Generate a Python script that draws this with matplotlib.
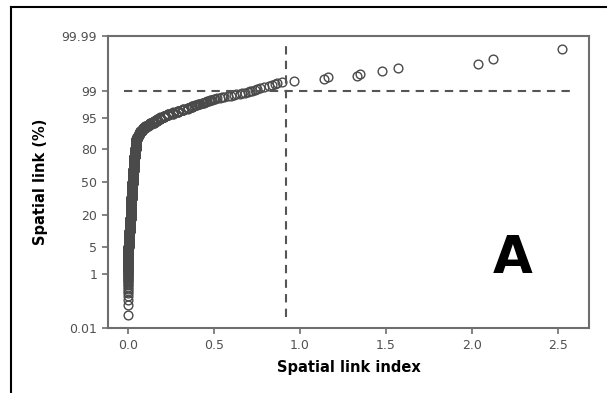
import numpy as np
import matplotlib
matplotlib.use('Agg')
import matplotlib.pyplot as plt
from matplotlib.lines import Line2D
from statistics import NormalDist

# Spatial link index values (sorted); bulk given as value / count pairs
x_levels = [0.000, 0.003, 0.006, 0.008, 0.010, 0.014, 0.016, 0.018, 0.020,
            0.024, 0.026, 0.029, 0.031, 0.034, 0.038, 0.042, 0.046, 0.050,
            0.055, 0.060, 0.066, 0.073, 0.080, 0.090, 0.100, 0.115, 0.130,
            0.150, 0.170, 0.190, 0.210, 0.235, 0.260, 0.290, 0.320, 0.350, 0.375]
x_counts = [40, 60, 60, 50, 44, 100, 120, 120, 90,
            150, 150, 150, 110, 120, 120, 120, 80, 40,
            26, 15, 20, 20, 15, 13, 12, 12, 11,
            12, 11, 10, 9, 8, 7, 7, 6, 5, 5]
# upper tail, one value per point
x_tail = [0.385, 0.39, 0.395, 0.40, 0.41, 0.415, 0.42, 0.43, 0.44, 0.445,
          0.45, 0.455, 0.46, 0.47, 0.48, 0.485, 0.49, 0.50, 0.51, 0.52,
          0.535, 0.545, 0.56, 0.58, 0.60, 0.615, 0.63, 0.65, 0.665, 0.68,
          0.70, 0.71, 0.725, 0.74, 0.75, 0.77, 0.79, 0.82, 0.84, 0.855, 0.87,
          0.895, 0.967, 1.143, 1.163, 1.332, 1.351, 1.481, 1.574, 2.039, 2.126, 2.524]

y_ticks = [0.01, 1, 5, 20, 50, 80, 95, 99, 99.99]
y_ticklabels = ['0.01', '1', '5', '20', '50', '80', '95', '99', '99.99']
x_ticks = [0.0, 0.5, 1.0, 1.5, 2.0, 2.5]

ref_x = 0.923
ref_pct = 99

x_vals = np.sort(np.concatenate([np.repeat(x_levels, x_counts), x_tail]))
n = len(x_vals)
ranks = np.arange(1, n + 1)
pct = (ranks - 0.3) / (n + 0.4) * 100  # median ranks

nd = NormalDist()


def _fwd(p):
    p = min(max(p, 1e-9), 100 - 1e-9)
    return nd.inv_cdf(p / 100.0)


def _inv(z):
    return nd.cdf(z) * 100.0


fwd = np.vectorize(_fwd, otypes=[float])
inv = np.vectorize(_inv, otypes=[float])

fig = plt.figure(figsize=(6.07, 3.93), dpi=100)
ax = fig.add_axes([0.1773, 0.1646, 0.7934, 0.7438])
ax.set_yscale('function', functions=(fwd, inv))

ax.plot(x_vals, pct, linestyle='none', marker='o', markersize=6.3,
        markerfacecolor='none', markeredgecolor='#4a4a4a', markeredgewidth=1.0)

ax.plot([-0.02, 2.59], [ref_pct, ref_pct], color='#555555', lw=1.5,
        linestyle=(0, (4, 3)))
ax.plot([ref_x, ref_x], [0.030, 99.981], color='#555555', lw=1.5,
        linestyle=(0, (4, 3)))

ax.set_xlim(-0.1175, 2.684)
ax.set_ylim(0.01, 99.99)
ax.set_yticks(y_ticks)
ax.set_yticklabels(y_ticklabels)
ax.yaxis.set_minor_locator(matplotlib.ticker.NullLocator())
ax.set_xticks(x_ticks)
ax.set_xticklabels(['%.1f' % t for t in x_ticks])

for s in ax.spines.values():
    s.set_color('#6e6e6e')
    s.set_linewidth(1.5)
ax.tick_params(colors='#6e6e6e', labelcolor='#505050', labelsize=9,
               length=4, width=1.2)

ax.set_xlabel('Spatial link index', fontsize=10.5, fontweight='bold', labelpad=6)
ax.set_ylabel('Spatial link (%)', fontsize=10.5, fontweight='bold', labelpad=10)

ax.text(0.842, 0.237, 'A', transform=ax.transAxes, fontsize=37,
        fontweight='bold', ha='center', va='center')

# picture frame (top and left)
fig.add_artist(Line2D([11 / 607, 1], [1 - 7 / 393, 1 - 7 / 393],
                      color='black', lw=1.5, transform=fig.transFigure))
fig.add_artist(Line2D([11 / 607, 11 / 607], [0, 1 - 7 / 393],
                      color='black', lw=1.5, transform=fig.transFigure))

fig.savefig('out.png', dpi=100)
